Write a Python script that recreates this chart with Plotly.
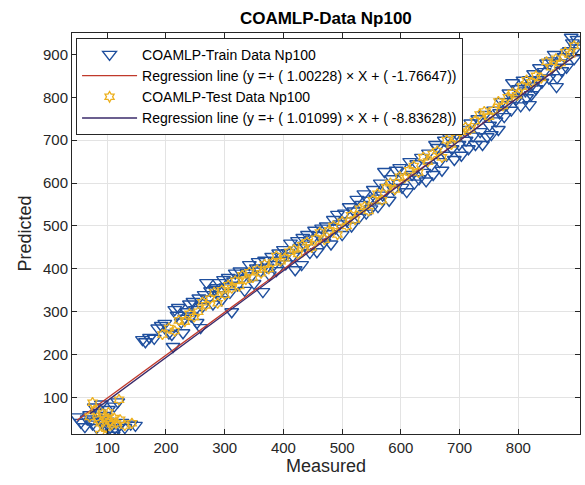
import plotly.graph_objects as go

# ---- data ----
train_x = [48, 55, 62, 70, 78, 85, 88, 92, 95, 100, 105, 108, 110, 115, 118, 120, 125, 130, 140, 148, 72, 82, 96, 102, 112, 66, 90, 75,
           160, 165, 172, 180, 186, 192, 198, 205, 210, 212, 215, 219, 221, 226, 229, 232, 236, 240, 243, 246, 250, 253, 256, 259, 262, 265, 269, 272, 276, 280, 283, 286, 290, 291, 295, 298,
           302, 306, 309, 312, 315, 318, 322, 326, 330, 334, 338, 342, 346, 350, 354, 357, 361, 365, 368, 372, 376, 380, 384, 388, 392, 396, 400, 404, 408, 412, 416, 420,
           424, 428, 431, 433, 437, 441, 445, 449, 453, 457, 461, 465, 469, 473, 477, 481, 485, 489, 492, 496, 500, 504, 508, 512, 516, 520, 525, 529, 533, 537, 541, 545, 549, 553, 557, 561, 565, 569, 572, 576, 580, 584, 588, 592, 596,
           598, 602, 606, 610, 615, 619, 623, 627, 631, 635, 639, 643, 647, 651, 655, 659, 662, 666, 670, 674, 678, 683, 687, 691, 695, 699, 703, 707, 711, 715, 719, 723, 727, 731, 735, 739, 743, 747, 751,
           754, 758, 762, 766, 768, 772, 776, 780, 784, 788, 790, 794, 796, 800, 804, 808, 812, 814, 819, 819, 822, 822, 826, 830, 832, 836, 840, 844, 848, 852, 856, 858, 861, 865, 866, 870, 874, 878, 882, 884, 887, 890, 892, 895, 898, 900]
train_y = [55, 42, 32, 60, 78, 65, 50, 40, 35, 45, 30, 20, 12, 25, 90, 35, 42, 30, 38, 35, 45, 30, 58, 72, 80, 50, 85, 38,
           235, 230, 240, 238, 262, 268, 273, 250, 247, 219, 305, 292, 310, 276, 251, 285, 300, 318, 290, 324, 305, 275, 332, 263, 312, 340, 368, 330, 349, 318, 352, 356, 340, 368, 328, 375,
           358, 380, 345, 300, 372, 390, 362, 395, 378, 350, 391, 410, 384, 366, 402, 417, 395, 347, 420, 404, 386, 429, 410, 396, 437, 420, 445, 412, 438, 460, 430, 398,
           466, 450, 410, 473, 455, 480, 438, 470, 490, 440, 478, 495, 462, 500, 482, 458, 515, 495, 527, 505, 480, 530, 512, 545, 500, 535, 562, 520, 550, 575, 530, 560, 540, 585, 565, 545, 600, 572, 627, 590, 560, 610, 585, 630, 600,
           636, 590, 615, 580, 650, 620, 600, 645, 610, 660, 625, 605, 670, 640, 620, 690, 683, 650, 630, 700, 665, 706, 680, 655, 715, 690, 665, 725, 700, 680, 740, 710, 690, 750, 720, 690, 760, 708, 735,
           713, 770, 745, 725, 764, 790, 755, 783, 810, 770, 834, 800, 795, 820, 780, 840, 815, 799, 841, 783, 806, 827, 855, 820, 841, 869, 835, 860, 880, 845, 885, 870, 900, 825, 846, 880, 862, 895, 870, 905, 909, 940, 927, 890, 915, 935]

test_x = [75, 80, 85, 88, 92, 95, 98, 100, 105, 108, 112, 115, 120, 122, 130, 142, 88, 70, 102,
          194, 205, 215, 222, 232, 240, 248, 255, 262, 268, 275, 282, 288, 295, 300, 306, 312, 318, 325, 330, 336, 342, 348, 355, 362, 368, 375, 382, 388, 395,
          402, 410, 418, 425, 432, 440, 448, 455, 462, 470, 478, 485, 492, 500, 508, 515, 522, 530, 538, 545, 552, 560, 568, 575, 582, 590, 598,
          606, 614, 622, 630, 638, 646, 654, 662, 670, 678, 686, 694, 702, 710, 718, 726, 734, 742, 750, 758, 766, 774, 782, 790, 798, 806, 814, 822, 830, 839, 848, 856, 864, 872, 880, 888, 895]
test_y = [88, 70, 48, 40, 62, 55, 30, 50, 45, 38, 52, 40, 95, 48, 35, 40, 15, 55, 65,
          247, 262, 255, 280, 277, 295, 288, 300, 322, 315, 330, 345, 320, 350, 340, 362, 355, 372, 360, 385, 375, 392, 380, 398, 390, 410, 400, 415, 430, 418,
          425, 440, 445, 435, 455, 462, 450, 470, 485, 468, 490, 500, 480, 510, 500, 525, 515, 540, 545, 535, 560, 575, 560, 590, 600, 585, 615,
          612, 630, 640, 625, 660, 650, 668, 675, 660, 700, 690, 705, 720, 730, 725, 745, 760, 767, 755, 770, 790, 780, 800, 810, 805, 825, 840, 835, 850, 845, 883, 870, 890, 880, 905, 900, 920]

train_slope, train_icpt = 1.00228, -1.76647
test_slope, test_icpt = 1.01099, -8.83628

train_label = "COAMLP-Train Data Np100"
test_label = "COAMLP-Test Data Np100"
reg1_label = "Regression line (y =+ ( 1.00228) × X + ( -1.76647))"
reg2_label = "Regression line (y =+ ( 1.01099) × X + ( -8.83628))"
title = "COAMLP-Data Np100"
xticks = [100, 200, 300, 400, 500, 600, 700, 800]
yticks = [100, 200, 300, 400, 500, 600, 700, 800, 900]

FONT = "Liberation Sans, Arial, sans-serif"

def line_pts(xs, m, b):
    lo, hi = min(xs), max(xs)
    return [lo, hi], [m * lo + b, m * hi + b]

lx1, ly1 = line_pts(train_x, train_slope, train_icpt)
lx2, ly2 = line_pts(test_x, test_slope, test_icpt)

fig = go.Figure()
fig.add_trace(go.Scatter(x=train_x, y=train_y, mode="markers", name=train_label,
                         marker=dict(symbol="triangle-down-open", size=12, color="#1f4f9e",
                                     line=dict(width=1.4, color="#1f4f9e"))))
fig.add_trace(go.Scatter(x=lx1, y=ly1, mode="lines", name=reg1_label,
                         line=dict(color="#c0392b", width=1.3)))
fig.add_trace(go.Scatter(x=test_x, y=test_y, mode="markers", name=test_label,
                         marker=dict(symbol="hexagram-open", size=8, color="#EDB120",
                                     line=dict(width=1.3, color="#EDB120"))))
fig.add_trace(go.Scatter(x=lx2, y=ly2, mode="lines", name=reg2_label,
                         line=dict(color="#3a2a6a", width=1.3)))

axis_common = dict(showline=True, linecolor="#262626", linewidth=1, mirror="ticks",
                   ticks="inside", ticklen=5, tickcolor="#262626",
                   showgrid=True, gridcolor="#e3e3e3", gridwidth=1, zeroline=False,
                   tickfont=dict(family=FONT, size=15, color="#262626"))

fig.update_layout(
    width=585, height=485,
    margin=dict(l=72, r=5, t=33, b=51),
    paper_bgcolor="white", plot_bgcolor="white",
    title=dict(text="<b>" + title + "</b>", x=0.557, xanchor="center", y=0.963, yanchor="middle",
               font=dict(family=FONT, size=17, color="black")),
    xaxis=dict(range=[40, 905], tickvals=xticks, title=dict(text="Measured", standoff=4,
               font=dict(family=FONT, size=18, color="#262626")), **axis_common),
    yaxis=dict(range=[15, 950], tickvals=yticks, title=dict(text="Predicted", standoff=6,
               font=dict(family=FONT, size=18, color="#262626")), **axis_common),
    legend=dict(x=0.008, y=0.988, xanchor="left", yanchor="top",
                bgcolor="white", bordercolor="#262626", borderwidth=1,
                font=dict(family=FONT, size=14, color="black"),
                itemwidth=55, tracegroupgap=0),
    showlegend=True,
)

fig.write_html("out.html")
